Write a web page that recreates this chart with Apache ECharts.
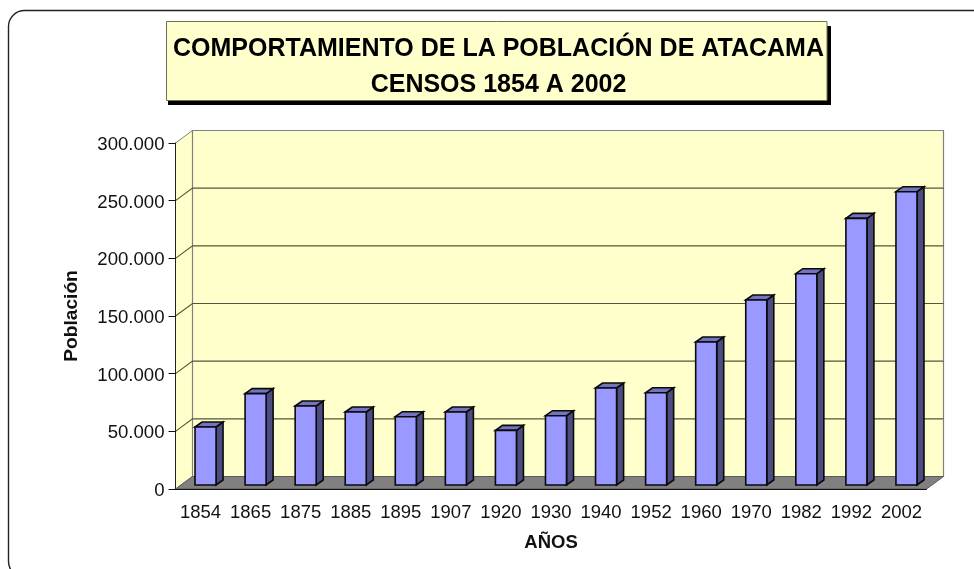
<!DOCTYPE html>
<html>
<head>
<meta charset="utf-8">
<style>html,body{margin:0;padding:0;background:#fff}#c{width:974px;height:569px}</style>
<script src="https://cdn.jsdelivr.net/npm/echarts@6/dist/echarts.min.js"></script>
</head>
<body>
<div id="c"></div>
<script>
const categories = ['1854','1865','1875','1885','1895','1907','1920','1930','1940','1952','1960','1970','1982','1992','2002'];
const poblacion = [50300,79200,68500,63300,59200,63300,47400,60100,84100,80000,124000,160400,183200,231200,254300];
const yTicks = [0,50000,100000,150000,200000,250000,300000];
const titleLines = ['COMPORTAMIENTO DE LA POBLACIÓN DE ATACAMA','CENSOS 1854 A 2002'];
const xName = 'AÑOS';
const yName = 'Población';

const FONT = '"Liberation Sans", Arial, sans-serif';
const DX = 17, DY = -12.5;          // full depth of the 3D box
const BX = 5, BY = -4;              // bar's front offset from axis plane
const BDX = 7, BDY = -5;            // bar depth

const chart = echarts.init(document.getElementById('c'), null, {renderer:'canvas'});

function poly(points, fill, stroke, lw) {
  return {type:'polygon', shape:{points}, style:{fill, stroke:stroke||null, lineWidth:lw||1}};
}

function renderWalls(params) {
  const c = params.coordSys;
  const x0=c.x, x1=c.x+c.width, yT=c.y, yB=c.y+c.height;
  return {type:'group', silent:true, children:[
    poly([[x0,yT],[x0+DX,yT+DY],[x0+DX,yB+DY],[x0,yB]], '#FFFFCC', '#808080', 1),
    poly([[x0+DX,yT+DY],[x1+DX,yT+DY],[x1+DX,yB+DY],[x0+DX,yB+DY]], '#FFFFCC', '#808080', 1.2),
    poly([[x0,yB],[x1,yB],[x1+DX,yB+DY],[x0+DX,yB+DY]], '#808080', '#5a5a5a', 1)
  ]};
}

function renderGrid(params, api) {
  const c = params.coordSys;
  const v = api.value(1);
  if (v <= 0 || v >= yTicks[yTicks.length-1]) return null;
  const y = api.coord([0, v])[1];
  return {type:'polyline', silent:true,
    shape:{points:[[c.x,y],[c.x+DX,y+DY],[c.x+c.width+DX,y+DY]]},
    style:{fill:null, stroke:'#55553a', lineWidth:1.1}};
}

function renderBar(params, api) {
  const p = api.coord([api.value(0), api.value(1)]);
  const base = api.coord([api.value(0), 0]);
  const w = api.size([1,0])[0]*0.42;
  const l = p[0]-w/2+BX, r = l+w, t = p[1]+BY, b = base[1]+BY;
  const S='#0a0a0a', LW=1.6;
  return {type:'group', children:[
    poly([[r,t],[r+BDX,t+BDY],[r+BDX,b+BDY],[r,b]], '#4C4C80', S, LW),
    poly([[l,t],[l+BDX,t+BDY],[r+BDX,t+BDY],[r,t]], '#7373BF', S, LW),
    poly([[l,t],[r,t],[r,b],[l,b]], '#9999FF', S, LW)
  ]};
}

chart.setOption({
  animation:false,
  backgroundColor:'#fff',
  tooltip:{show:false},
  title:{
    text:titleLines.join('\n'),
    left:493.5, top:26.5, textAlign:'center',
    textStyle:{fontFamily:FONT, fontSize:25, fontWeight:'bold', color:'#000', lineHeight:36}
  },
  graphic:[
    {type:'rect', z:-10, silent:true,
      shape:{x:8.5,y:10.5,width:1100,height:567,r:16},
      style:{fill:'#fff',stroke:'#222',lineWidth:1.4}},
    {type:'rect', z:-9, silent:true, shape:{x:168,y:26,width:663,height:79}, style:{fill:'#000'}},
    {type:'rect', z:-8, silent:true, shape:{x:166.5,y:21.5,width:660.5,height:79}, style:{fill:'#FFFFCC',stroke:'#6f6f55',lineWidth:1}}
  ],
  grid:{left:175.5, right:47.5, top:143, bottom:80, containLabel:false},
  xAxis:{
    type:'category', data:categories, z:10,
    axisLine:{lineStyle:{color:'#111',width:1}},
    axisTick:{alignWithLabel:false,length:7,lineStyle:{color:'#111'}},
    axisLabel:{fontFamily:FONT,fontSize:18.5,color:'#111',margin:14,interval:0},
    splitLine:{show:false},
    name:xName, nameLocation:'middle', nameGap:44,
    nameTextStyle:{fontFamily:FONT,fontSize:18.5,fontWeight:'bold',color:'#111'}
  },
  yAxis:{
    type:'value', min:0, max:300000, interval:50000, z:10,
    axisLine:{show:true,lineStyle:{color:'#222',width:1}},
    axisTick:{show:true,length:7,lineStyle:{color:'#111'}},
    axisLabel:{margin:11,
      formatter:v=>'{t|'+String(v).replace(/\B(?=(\d{3})+$)/g,'.')+'}',
      rich:{t:{fontFamily:FONT,fontSize:18.6,color:'#111',padding:[4,0,0,0]}}},
    splitLine:{show:false},
    name:yName, nameLocation:'middle', nameGap:94, nameRotate:90,
    nameTextStyle:{fontFamily:FONT,fontSize:19.2,fontWeight:'bold',color:'#111'}
  },
  series:[
    {type:'custom', name:'walls', z:1, clip:false, silent:true, renderItem:renderWalls, data:[[categories[0],0]], encode:{x:0,y:1}},
    {type:'custom', name:'grid', z:2, clip:false, silent:true, renderItem:renderGrid, data:yTicks.map(t=>[categories[0],t]), encode:{x:0,y:1}},
    {type:'custom', name:'Población', z:3, clip:false, renderItem:renderBar, data:categories.map((c,i)=>[c,poblacion[i]]), encode:{x:0,y:1}}
  ]
});
</script>
</body>
</html>
